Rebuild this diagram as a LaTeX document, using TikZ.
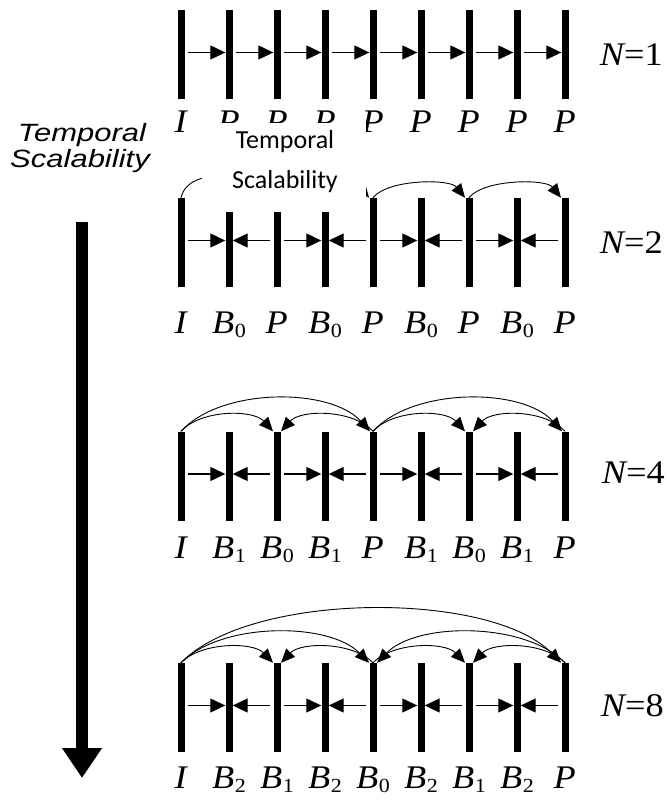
\documentclass[tikz,border=0pt]{standalone}
\usepackage{fontspec}
\setmainfont{Liberation Serif}
\newfontfamily\arialf{Liberation Sans}
\newfontfamily\calibrif{Carlito}
\usepackage{graphicx}
\usetikzlibrary{arrows.meta}
\newcommand{\hsc}[1]{\scalebox{1.1}[1]{#1}}
\newcommand{\frm}[2]{\hsc{\itshape #1\kern0.5pt\raisebox{-4pt}{\upshape\fontsize{20}{20}\selectfont #2}}}
\begin{document}
\begin{tikzpicture}[x=1pt,y=-1pt,
  bar/.style={fill=black,inner sep=0pt,minimum width=7pt,minimum height=89pt},
  harr/.style={line width=1.2pt,-{Triangle[length=15pt,width=14pt]},shorten <=3pt},
  arcarr/.style={line width=0.9pt,-{Triangle[length=14pt,width=12pt]}},
  lab/.style={anchor=base,inner sep=0pt,font=\fontsize{33}{33}\selectfont},
  nlab/.style={anchor=base east,inner sep=0pt,font=\fontsize{33}{33}\selectfont}]
\useasboundingbox (0,0) rectangle (668,803);
% bars
\foreach \r/\yc in {1/54.5,2/242.5,3/476,4/707.5}{
  \foreach \i in {1,...,9}{
    \node[bar] (r\r-\i) at ({181+48*(\i-1)},\yc) {};
  }
}
% horizontal arrows
\foreach \i [evaluate=\i as \j using int(\i+1)] in {1,...,8}
  \draw[harr] ([yshift=2pt]r1-\i.east) -- ([yshift=2pt]r1-\j.west);
\foreach \r in {2,3,4}{
  \foreach \i [evaluate=\i as \j using int(\i+1), evaluate=\i as \k using int(\i+2)] in {1,3,5,7}{
    \draw[harr] ([yshift=2pt]r\r-\i.east) -- ([yshift=2pt]r\r-\j.west);
    \draw[harr] ([yshift=2pt]r\r-\k.west) -- ([yshift=2pt]r\r-\j.east);
  }
}
% arcs row 2
\draw[arcarr] (r2-1.north) .. controls +(8,-34) and +(-20,-20) .. ([xshift=-4pt]r2-3.north);
\draw[arcarr] (r2-3.north) .. controls +(15,-19) and +(-15,-19) .. ([xshift=-4pt]r2-5.north);
\draw[arcarr] (r2-5.north) .. controls +(15,-19) and +(-15,-19) .. ([xshift=-4pt]r2-7.north);
\draw[arcarr] (r2-7.north) .. controls +(15,-19) and +(-15,-19) .. ([xshift=-4pt]r2-9.north);
% arcs row 3
\draw[arcarr] (r3-1.north) .. controls +(20,-22) and +(-20,-22) .. ([xshift=-4pt]r3-3.north);
\draw[arcarr] (r3-5.north) .. controls +(-20,-22) and +(20,-22) .. ([xshift=4pt]r3-3.north);
\draw[arcarr] (r3-1.north) .. controls +(40,-44) and +(-40,-44) .. ([xshift=-3pt]r3-5.north);
\draw[arcarr] (r3-5.north) .. controls +(20,-22) and +(-20,-22) .. ([xshift=-4pt]r3-7.north);
\draw[arcarr] (r3-9.north) .. controls +(-20,-22) and +(20,-22) .. ([xshift=4pt]r3-7.north);
\draw[arcarr] (r3-5.north) .. controls +(40,-44) and +(-40,-44) .. ([xshift=-3pt]r3-9.north);
% arcs row 4
\draw[arcarr] (r4-1.north) .. controls +(20,-21) and +(-20,-21) .. ([xshift=-4pt]r4-3.north);
\draw[arcarr] (r4-5.north) .. controls +(-20,-21) and +(20,-21) .. ([xshift=4pt]r4-3.north);
\draw[arcarr] (r4-5.north) .. controls +(20,-21) and +(-20,-21) .. ([xshift=-4pt]r4-7.north);
\draw[arcarr] (r4-9.north) .. controls +(-20,-21) and +(20,-21) .. ([xshift=4pt]r4-7.north);
\draw[arcarr] (r4-1.north) .. controls +(40,-41) and +(-40,-41) .. ([xshift=-4pt]r4-5.north);
\draw[arcarr] (r4-9.north) .. controls +(-40,-41) and +(40,-41) .. ([xshift=4pt]r4-5.north);
\draw[arcarr] (r4-1.north) .. controls +(70,-72) and +(-70,-72) .. ([xshift=-4pt]r4-9.north);
% labels
\foreach \a/\b [count=\i] in {I/{},P/{},P/{},P/{},P/{},P/{},P/{},P/{},P/{}}
  \node[lab] (l1-\i) at ({181+48*(\i-1)},132) {\frm{\a}{\b}};
\foreach \a/\b [count=\i] in {I/{},B/0,P/{},B/0,P/{},B/0,P/{},B/0,P/{}}
  \node[lab] (l2-\i) at ({181+48*(\i-1)},333) {\frm{\a}{\b}};
\foreach \a/\b [count=\i] in {I/{},B/1,B/0,B/1,P/{},B/1,B/0,B/1,P/{}}
  \node[lab] (l3-\i) at ({181+48*(\i-1)},558) {\frm{\a}{\b}};
\foreach \a/\b [count=\i] in {I/{},B/2,B/1,B/2,B/0,B/2,B/1,B/2,P/{}}
  \node[lab] (l4-\i) at ({181+48*(\i-1)},788) {\frm{\a}{\b}};
% N labels
\node[nlab] (n1) at (663,65) {\hsc{\itshape N\upshape=1}};
\node[nlab] (n2) at (663,253) {\hsc{\itshape N\upshape=2}};
\node[nlab] (n4) at (665,483) {\hsc{\itshape N\upshape=4}};
\node[nlab] (n8) at (664,716) {\hsc{\itshape N\upshape=8}};
% overlay box with text
\node[fill=white,inner sep=0pt,minimum width=164pt,minimum height=89pt] (tsbox) at (284,167.5) {};
\node[anchor=base,inner sep=0pt,font=\calibrif\fontsize{26}{26}\selectfont] (ts1) at (285,148) {Temporal};
\node[anchor=base,inner sep=0pt,font=\calibrif\fontsize{26}{26}\selectfont] (ts2) at (285,188) {Scalability};
% left label and arrow
\node[anchor=base,inner sep=0pt,font=\arialf\itshape\fontsize{25}{25}\selectfont] (lt1) at (82,141) {\scalebox{1.24}[1]{Temporal}};
\node[anchor=base,inner sep=0pt,font=\arialf\itshape\fontsize{25}{25}\selectfont] (lt2) at (80,167) {\scalebox{1.24}[1]{Scalability}};
\coordinate (as) at (82,222);
\coordinate (ae) at (82,778);
\draw[line width=12pt,-{Triangle[length=30pt,width=38pt]}] (as) -- (ae);
\end{tikzpicture}
\end{document}
